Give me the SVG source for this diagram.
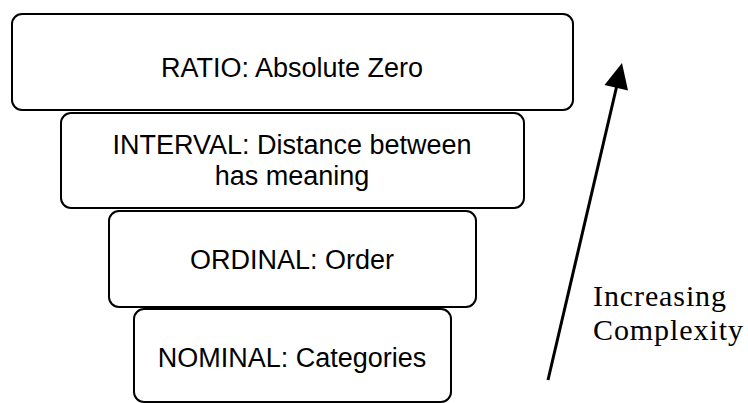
<svg xmlns="http://www.w3.org/2000/svg" width="748" height="403" viewBox="0 0 748 403">
<style>
.box{fill:#fff;stroke:#000;stroke-width:2}
.lbl{font-family:"Liberation Sans",Arial,sans-serif;font-size:27px;fill:#000;text-anchor:middle}
.note{font-family:"Liberation Serif","Times New Roman",serif;font-size:30px;fill:#000}
</style>
<rect width="748" height="403" fill="#fff"/>
<g id="ratio">
<rect class="box" x="12" y="14" width="561" height="96" rx="10"/>
<text class="lbl" x="292" y="77">RATIO: Absolute Zero</text>
</g>
<g id="interval">
<rect class="box" x="61" y="113" width="463" height="95" rx="10"/>
<text class="lbl" x="292" y="154">INTERVAL: Distance between</text>
<text class="lbl" x="292" y="185">has meaning</text>
</g>
<g id="ordinal">
<rect class="box" x="109" y="211" width="367" height="96" rx="10"/>
<text class="lbl" x="292" y="269">ORDINAL: Order</text>
</g>
<g id="nominal">
<rect class="box" x="134" y="309" width="317" height="93" rx="10"/>
<text class="lbl" x="292" y="367">NOMINAL: Categories</text>
</g>
<g id="connectors">
<line x1="548" y1="380" x2="617" y2="85" stroke="#000" stroke-width="3"/>
<polygon points="622,63 604.5,85 628,90.5" fill="#000"/>
</g>
<g id="caption">
<text class="note" x="593" y="306" textLength="133">Increasing</text>
<text class="note" x="593" y="340" textLength="150">Complexity</text>
</g>
</svg>
